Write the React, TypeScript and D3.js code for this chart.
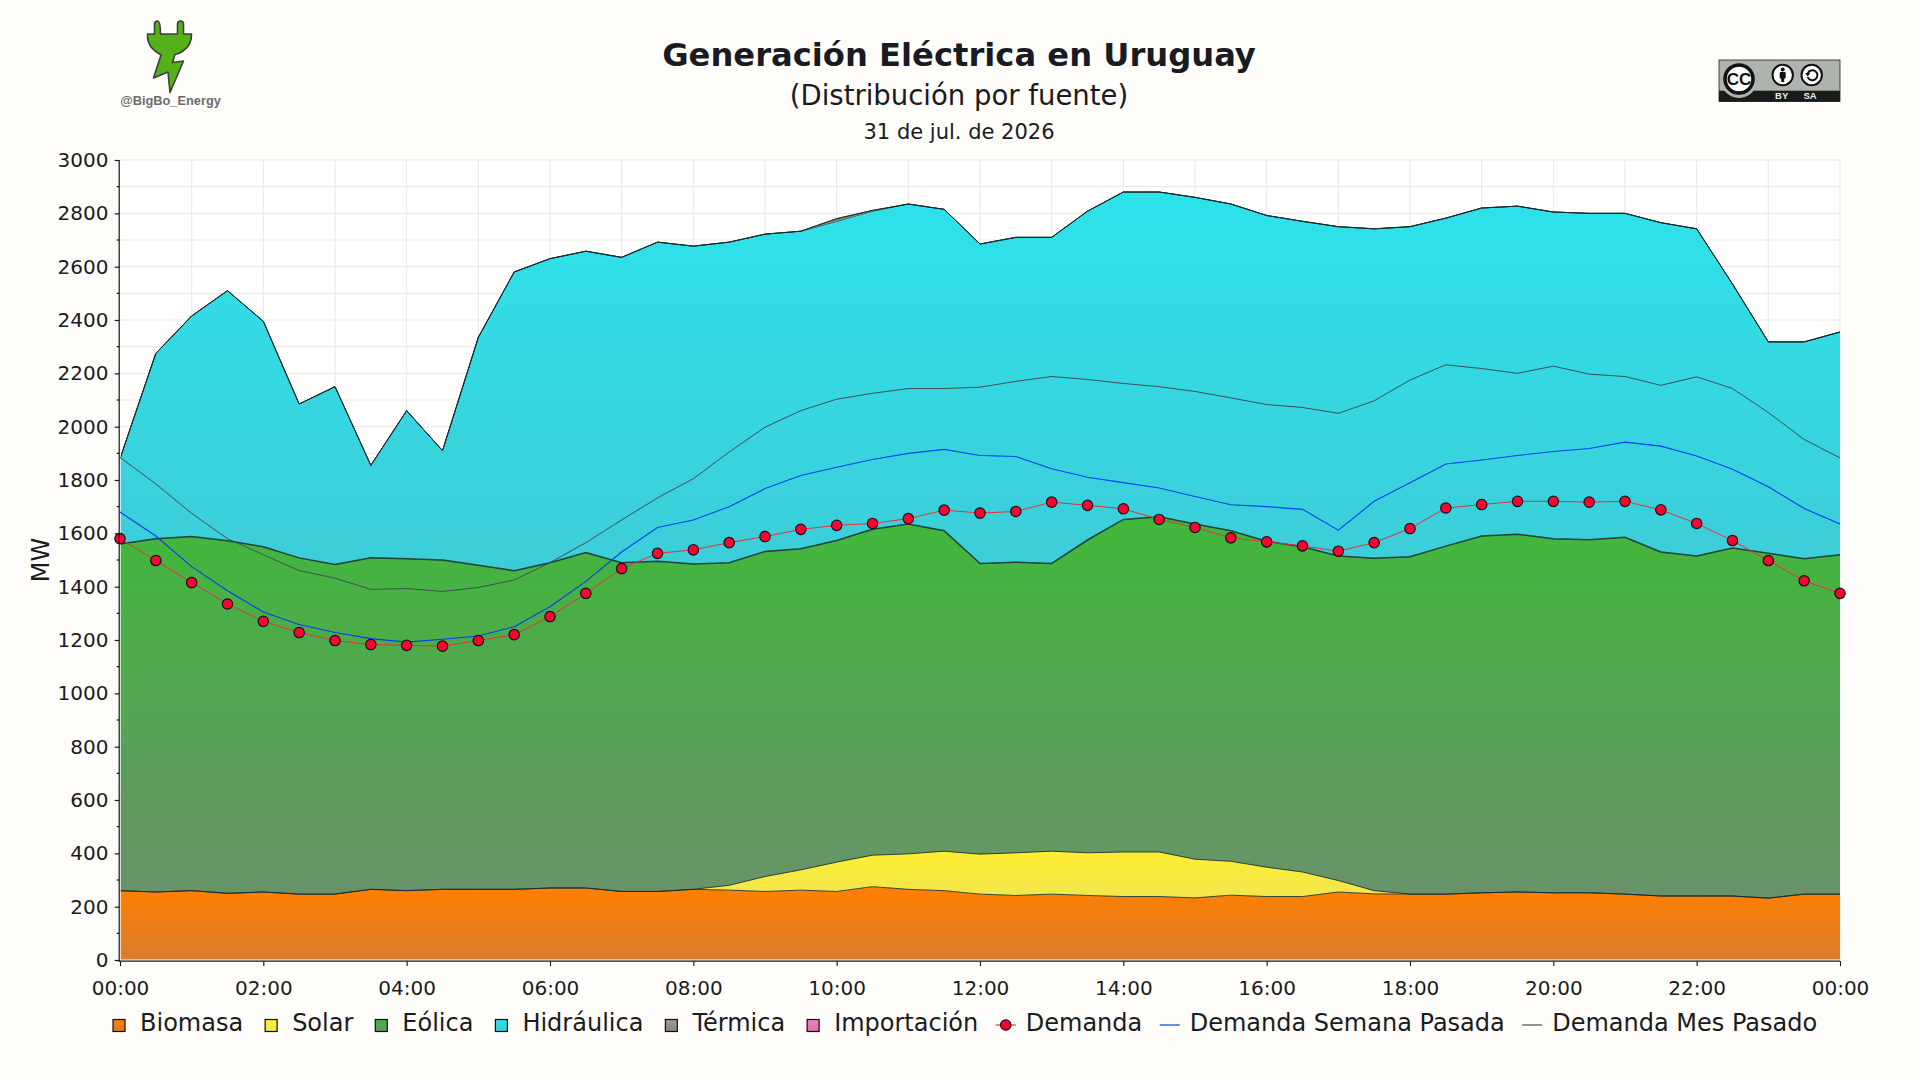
import React, { useEffect, useRef } from "react";
import * as d3 from "d3";

// half-hourly values, 00:00 to 00:00 of the next day (MW)
const biomasa = [260,255,260,250,255,247,247,265,260,265,265,265,270,270,257,257,265,262,257,262,257,275,265,260,247,242,247,242,238,238,233,243,238,238,255,248,247,247,252,255,252,252,247,240,240,240,232,247,247];
const solar = [0,0,0,0,0,0,0,0,0,0,0,0,0,0,0,0,0,18,56,76,110,118,133,148,150,160,161,160,167,167,145,127,110,92,43,12,0,0,0,0,0,0,0,0,0,0,0,0,0];
const eolica = [1300,1325,1328,1322,1295,1261,1236,1243,1245,1235,1215,1195,1220,1258,1233,1238,1220,1210,1219,1204,1206,1222,1237,1202,1090,1090,1079,1173,1247,1257,1257,1240,1222,1220,1217,1247,1265,1305,1338,1342,1328,1324,1338,1290,1275,1305,1293,1258,1273];
const hidraulica = [320,695,827,938,845,577,667,347,555,410,855,1120,1140,1130,1145,1197,1192,1202,1190,1191,1197,1193,1200,1205,1198,1218,1223,1233,1228,1218,1225,1225,1222,1220,1235,1235,1238,1230,1230,1230,1225,1224,1215,1235,1227,990,793,813,835];
const termica = [0,0,0,0,0,0,0,0,0,0,0,0,0,0,0,0,0,0,0,0,10,3,0,0,0,0,0,0,0,0,0,0,0,0,0,0,0,0,0,0,0,0,0,0,0,0,0,0,0];
const importacion = [0,0,0,0,0,0,0,0,0,0,0,0,0,0,0,0,0,0,0,0,0,0,0,0,0,0,0,0,0,0,0,0,0,0,0,0,0,0,0,0,0,0,0,0,0,0,0,0,0];
const demanda = [1580,1498,1415,1335,1270,1228,1198,1183,1180,1177,1198,1220,1288,1375,1468,1525,1538,1565,1588,1615,1630,1637,1655,1687,1676,1682,1717,1705,1692,1652,1622,1583,1568,1553,1533,1565,1618,1695,1708,1720,1720,1717,1720,1688,1637,1573,1498,1422,1375];
const semanaPasada = [1680,1590,1475,1385,1305,1258,1228,1205,1192,1203,1215,1250,1325,1420,1530,1622,1650,1700,1768,1817,1848,1877,1900,1915,1892,1888,1842,1810,1790,1770,1738,1707,1700,1690,1612,1720,1790,1860,1875,1892,1907,1918,1942,1927,1890,1840,1775,1693,1635];
const mesPasado = [1885,1785,1675,1580,1520,1460,1432,1390,1393,1382,1397,1425,1490,1565,1650,1733,1805,1905,1998,2060,2103,2125,2143,2143,2148,2170,2188,2177,2162,2150,2132,2108,2083,2072,2050,2097,2175,2232,2218,2200,2227,2197,2188,2155,2187,2143,2053,1952,1883];

const sourceNames = ["Biomasa", "Solar", "Eólica", "Hidráulica", "Térmica", "Importación"];
const sourceValues = [biomasa, solar, eolica, hidraulica, termica, importacion];
const gradientTop = ["#ff8000", "#fdee30", "#40b83a", "#2de2ea", "#a09a9a", "#f47cc0"];
const gradientBottom = ["#da7c2c", "#f2e64e", "#69926a", "#3dcdd8", "#8a8585", "#e070b0"];
const xTickLabels = ["00:00","02:00","04:00","06:00","08:00","10:00","12:00","14:00","16:00","18:00","20:00","22:00","00:00"];

export default function App() {
  const svgRef = useRef<SVGSVGElement>(null);

  useEffect(() => {
    if (!svgRef.current) return;
    document.body.style.margin = "0";

    const svg = d3.select(svgRef.current);
    svg.selectAll("*").remove();

    const width = 1920;
    const height = 1080;
    const margin = { top: 160, right: 80, bottom: 120, left: 120 };
    const innerWidth = width - margin.left - margin.right;
    const innerHeight = height - margin.top - margin.bottom;
    const font = "'DejaVu Sans', sans-serif";
    const ink = "#1a1a22";
    const blue = "#0040f0";
    const slate = "#3f4f55";

    svg.append("rect").attr("width", width).attr("height", height).attr("fill", "#fffefb");

    // gradients, one per source
    const defs = svg.append("defs");
    sourceNames.forEach((name, i) => {
      const grad = defs.append("linearGradient")
        .attr("id", `grad-${i}`)
        .attr("x1", 0).attr("x2", 0).attr("y1", 0).attr("y2", 1);
      grad.append("stop").attr("offset", "0%").attr("stop-color", gradientTop[i]);
      grad.append("stop").attr("offset", "100%").attr("stop-color", gradientBottom[i]);
    });

    const xScale = d3.scaleLinear().domain([0, 24]).range([0, innerWidth]);
    const yScale = d3.scaleLinear().domain([0, 3000]).range([innerHeight, 0]);
    const hourOf = (i: number) => i * 0.5;

    const g = svg.append("g")
      .attr("transform", `translate(${margin.left},${margin.top})`);

    g.append("rect")
      .attr("width", innerWidth)
      .attr("height", innerHeight)
      .attr("fill", "#fffffe");

    // grid
    g.append("g")
      .selectAll("line")
      .data(d3.range(100, 3001, 100))
      .join("line")
      .attr("x1", 0).attr("x2", innerWidth)
      .attr("y1", d => yScale(d)).attr("y2", d => yScale(d))
      .attr("stroke", "#ebebe5").attr("stroke-width", 1.2);

    g.append("g")
      .selectAll("line")
      .data(d3.range(1, 25))
      .join("line")
      .attr("x1", d => xScale(d)).attr("x2", d => xScale(d))
      .attr("y1", 0).attr("y2", innerHeight)
      .attr("stroke", "#ebebe5").attr("stroke-width", 1.2);

    // stacked areas
    const rows = biomasa.map((_, i) => {
      const row: Record<string, number> = { i };
      sourceNames.forEach((name, s) => { row[name] = sourceValues[s][i]; });
      return row;
    });
    const layers = d3.stack<Record<string, number>>().keys(sourceNames)(rows);

    const area = d3.area<d3.SeriesPoint<Record<string, number>>>()
      .x((_, i) => xScale(hourOf(i)))
      .y0(d => yScale(d[0]))
      .y1(d => yScale(d[1]));
    const topLine = d3.line<d3.SeriesPoint<Record<string, number>>>()
      .x((_, i) => xScale(hourOf(i)))
      .y(d => yScale(d[1]));

    layers.forEach((layer, i) => {
      if (i >= 4) return; // termica and importacion get only a sliver or nothing
      g.append("path").datum(layer).attr("fill", `url(#grad-${i})`).attr("d", area);
    });
    layers.forEach((layer, i) => {
      if (i === 4) {
        g.append("path").datum(layer).attr("fill", gradientBottom[4]).attr("d", area);
      }
      g.append("path")
        .datum(layer)
        .attr("fill", "none")
        .attr("stroke", "#16282c")
        .attr("stroke-width", i === 2 ? 1.5 : 1)
        .attr("stroke-opacity", 0.85)
        .attr("d", topLine);
    });

    // white gap between the areas and the axes
    g.append("rect")
      .attr("x", -0.3).attr("width", 1).attr("height", innerHeight + 0.7)
      .attr("fill", "#ffffff");
    g.append("rect")
      .attr("y", innerHeight - 0.5).attr("x", -0.3).attr("width", innerWidth + 0.3).attr("height", 1.2)
      .attr("fill", "#ffffff");

    // demand lines
    const demandLine = d3.line<number>()
      .x((_, i) => xScale(hourOf(i)))
      .y(d => yScale(d));

    g.append("path").datum(mesPasado)
      .attr("fill", "none").attr("stroke", slate).attr("stroke-width", 1)
      .attr("d", demandLine);
    g.append("path").datum(semanaPasada)
      .attr("fill", "none").attr("stroke", blue).attr("stroke-width", 1.1)
      .attr("d", demandLine);
    g.append("path").datum(demanda)
      .attr("fill", "none").attr("stroke", "#e8303b").attr("stroke-width", 1)
      .attr("d", demandLine);
    g.append("g")
      .selectAll("circle")
      .data(demanda)
      .join("circle")
      .attr("cx", (_, i) => xScale(hourOf(i)))
      .attr("cy", d => yScale(d))
      .attr("r", 5.2)
      .attr("fill", "#ff0033")
      .attr("stroke", "#101014")
      .attr("stroke-width", 1.2);

    // axes
    const yAxis = d3.axisLeft(yScale)
      .tickValues(d3.range(0, 3001, 200))
      .tickSize(4.5)
      .tickPadding(6.2)
      .tickFormat(d => `${d}`);
    const yAxisGroup = g.append("g")
      .attr("transform", "translate(-0.8,0)")
      .call(yAxis);
    yAxisGroup.selectAll("text")
      .style("font-family", font).style("font-size", "20px").style("fill", ink);
    yAxisGroup.selectAll("line, path")
      .style("stroke", "#14141a").style("stroke-width", 1.2);
    yAxisGroup.selectAll("path").attr("d", `M0,${innerHeight + 1.5}V0`);

    // minor y ticks
    g.append("g")
      .selectAll("line")
      .data(d3.range(100, 3000, 200))
      .join("line")
      .attr("x1", -3.5).attr("x2", -0.8)
      .attr("y1", d => yScale(d)).attr("y2", d => yScale(d))
      .attr("stroke", "#14141a").attr("stroke-width", 1.1);

    const xAxis = d3.axisBottom(xScale)
      .tickValues(d3.range(0, 25, 2))
      .tickSize(5)
      .tickPadding(14.5)
      .tickFormat((_, i) => xTickLabels[i]);
    const xAxisGroup = g.append("g")
      .attr("transform", `translate(0,${innerHeight + 1.1})`)
      .call(xAxis);
    xAxisGroup.selectAll("text")
      .style("font-family", font).style("font-size", "20px").style("fill", ink);
    xAxisGroup.selectAll("line, path")
      .style("stroke", "#14141a").style("stroke-width", 1.1);
    xAxisGroup.selectAll("path").attr("d", `M-1.3,0H${innerWidth}`);

    g.append("text")
      .attr("transform", `translate(-71,${innerHeight / 2}) rotate(-90)`)
      .attr("text-anchor", "middle")
      .style("font-family", font).style("font-size", "24px").style("fill", ink)
      .text("MW");

    // titles
    const center = 959;
    svg.append("text")
      .attr("x", center).attr("y", 66).attr("text-anchor", "middle")
      .style("font-family", font).style("font-size", "32.2px").style("font-weight", "bold").style("fill", ink)
      .text("Generación Eléctrica en Uruguay");
    svg.append("text")
      .attr("x", center).attr("y", 105).attr("text-anchor", "middle")
      .style("font-family", font).style("font-size", "27.5px").style("fill", ink)
      .text("(Distribución por fuente)");
    svg.append("text")
      .attr("x", center).attr("y", 139).attr("text-anchor", "middle")
      .style("font-family", font).style("font-size", "21px").style("fill", ink)
      .text("31 de jul. de 2026");

    // legend
    const legend = svg.append("g").attr("transform", "translate(113,0)");
    let cursor = 0;
    const addLabel = (label: string, offset: number, gap: number) => {
      const t = legend.append("text")
        .attr("x", cursor + offset).attr("y", 1031)
        .style("font-family", font).style("font-size", "24px").style("fill", ink)
        .text(label);
      const len = (t.node() as SVGTextElement).getComputedTextLength();
      cursor += offset + len + gap;
    };
    sourceNames.forEach((name, i) => {
      legend.append("rect")
        .attr("x", cursor).attr("y", 1019.5).attr("width", 12).attr("height", 12)
        .attr("fill", `url(#grad-${i})`)
        .attr("stroke", "#101014").attr("stroke-width", 1.2);
      addLabel(name, 27, i === sourceNames.length - 1 ? 17.5 : 22);
    });
    const legendLines = [
      { label: "Demanda", color: "#e8303b", marker: true },
      { label: "Demanda Semana Pasada", color: blue, marker: false },
      { label: "Demanda Mes Pasado", color: slate, marker: false },
    ];
    legendLines.forEach(d => {
      legend.append("line")
        .attr("x1", cursor).attr("x2", cursor + 20)
        .attr("y1", 1025).attr("y2", 1025)
        .attr("stroke", d.color).attr("stroke-width", 1.2);
      if (d.marker) {
        legend.append("circle")
          .attr("cx", cursor + 10).attr("cy", 1025).attr("r", 5.2)
          .attr("fill", "#ff0033").attr("stroke", "#101014").attr("stroke-width", 1.2);
      }
      addLabel(d.label, 30, 17.5);
    });

    // plug logo
    const logo = svg.append("g");
    logo.append("path")
      .attr("d", "M154.5,34 V24 Q154.5,21 157.5,21 Q160.5,21 160.5,34 H177.5 V24 Q177.5,21 180.5,21 Q183.5,21 183.5,24 V34 H191.5 Q192,45 183,51 Q179,54 175,54.5 L172.5,62.5 L183.5,61 L170,92.5 L168,72 L153.5,78 L161,55 Q155,52 151,47 Q147,41 147.5,34 H154.5 Z")
      .attr("fill", "#56b017")
      .attr("stroke", "#3a3f40")
      .attr("stroke-width", 1.6)
      .attr("stroke-linejoin", "round");
    logo.append("text")
      .attr("x", 170.5).attr("y", 105).attr("text-anchor", "middle")
      .style("font-family", "'Liberation Sans', sans-serif")
      .style("font-size", "12.8px").style("font-weight", "bold").style("fill", "#6c6c6c")
      .text("@BigBo_Energy");

    // cc by-sa badge
    const cc = svg.append("g").attr("transform", "translate(1719,60)");
    cc.append("rect").attr("width", 121).attr("height", 41.5).attr("fill", "#aeb3ad").attr("stroke", "#222").attr("stroke-width", 0.8);
    cc.append("rect").attr("y", 30.7).attr("width", 121).attr("height", 11).attr("fill", "#1a1a1a");
    cc.append("circle").attr("cx", 20).attr("cy", 19.5).attr("r", 18.5).attr("fill", "#aeb3ad");
    cc.append("circle").attr("cx", 20).attr("cy", 19).attr("r", 14).attr("fill", "#fff").attr("stroke", "#111").attr("stroke-width", 3.5);
    cc.append("text").attr("x", 20).attr("y", 25).attr("text-anchor", "middle")
      .style("font-family", "'Liberation Sans', sans-serif").style("font-size", "17px").style("font-weight", "bold").style("fill", "#111")
      .text("CC");
    cc.append("circle").attr("cx", 63.7).attr("cy", 15).attr("r", 10.2).attr("fill", "#fff").attr("stroke", "#111").attr("stroke-width", 2);
    cc.append("circle").attr("cx", 63.7).attr("cy", 9.5).attr("r", 2).attr("fill", "#111");
    cc.append("rect").attr("x", 60.7).attr("y", 12).attr("width", 6).attr("height", 6.5).attr("rx", 1).attr("fill", "#111");
    cc.append("rect").attr("x", 62.2).attr("y", 16).attr("width", 3).attr("height", 6).attr("fill", "#111");
    cc.append("circle").attr("cx", 92.7).attr("cy", 15).attr("r", 10.2).attr("fill", "#fff").attr("stroke", "#111").attr("stroke-width", 2);
    cc.append("path")
      .attr("d", "M88.7,13.5 A5,5 0 1 1 88.7,17")
      .attr("fill", "none").attr("stroke", "#111").attr("stroke-width", 2);
    cc.append("path").attr("d", "M86.2,13 L91.2,13 L88.7,16.5 Z").attr("fill", "#111");
    cc.append("text").attr("x", 62.7).attr("y", 39.3).attr("text-anchor", "middle")
      .style("font-family", "'Liberation Sans', sans-serif").style("font-size", "9.5px").style("font-weight", "bold").style("fill", "#eee")
      .text("BY");
    cc.append("text").attr("x", 91).attr("y", 39.3).attr("text-anchor", "middle")
      .style("font-family", "'Liberation Sans', sans-serif").style("font-size", "9.5px").style("font-weight", "bold").style("fill", "#eee")
      .text("SA");
  }, []);

  return (
    <svg
      ref={svgRef}
      width={1920}
      height={1080}
      viewBox="0 0 1920 1080"
      style={{ position: "absolute", left: 0, top: 0, display: "block" }}
    />
  );
}
